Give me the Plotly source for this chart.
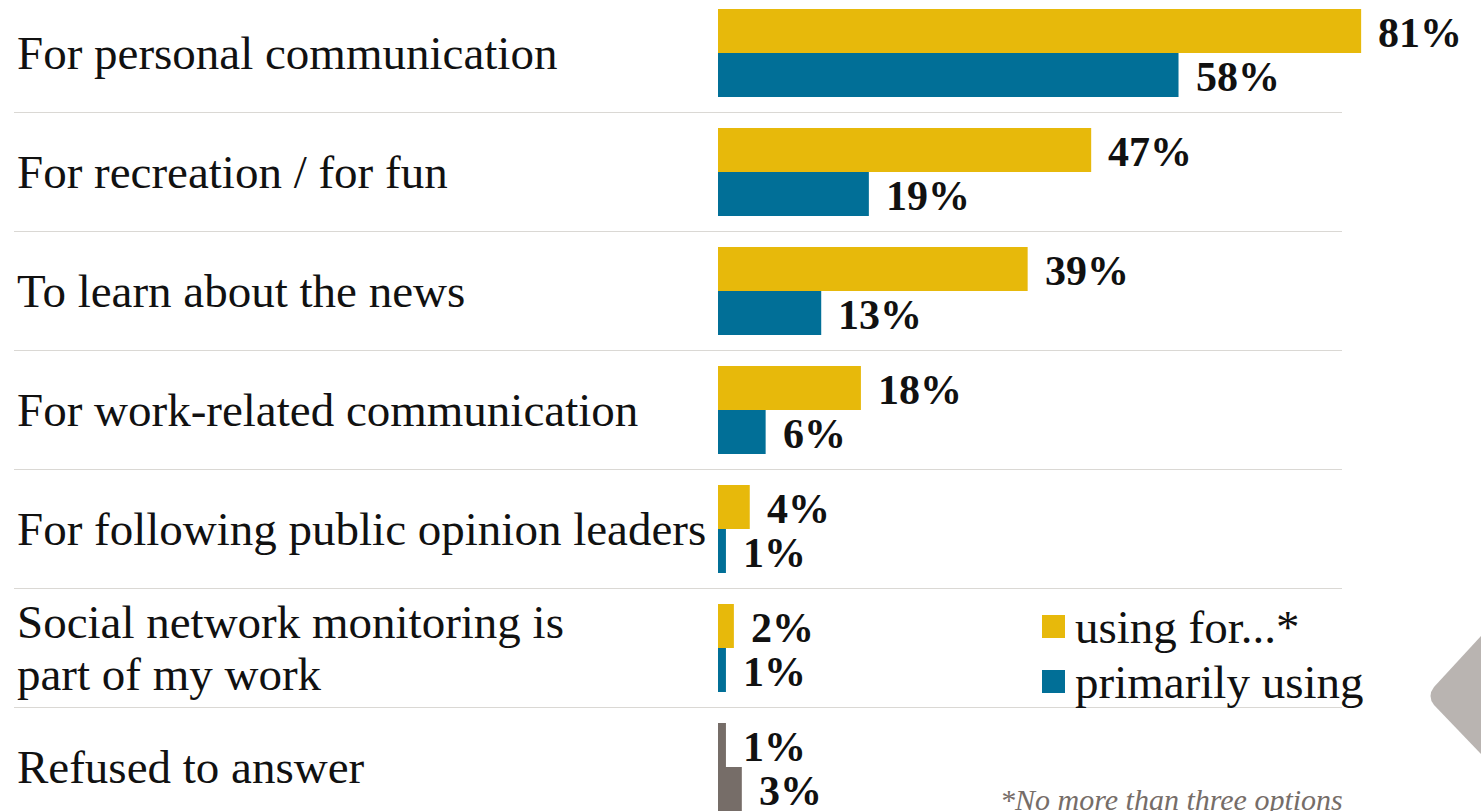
import plotly.graph_objects as go

# Survey data: reasons for using social networks
categories = [
    "For personal communication",
    "For recreation / for fun",
    "To learn about the news",
    "For work-related communication",
    "For following public opinion leaders",
    "Social network monitoring is<br>part of my work",
    "Refused to answer",
]
using_for = [81, 47, 39, 18, 4, 2, 1]
primarily_using = [58, 19, 13, 6, 1, 1, 3]

series_names = ["using for...*", "primarily using"]
footnote = "*No more than three options"

GOLD = "#E7B90B"
BLUE = "#016F97"
GRAY = "#766D68"
SEP = "#DAD8D4"

W, H = 1481, 811
SERIF = "Liberation Serif"

rows = list(range(len(categories)))
refused_idx = len(categories) - 1

gold_colors = [GRAY if i == refused_idx else GOLD for i in rows]
blue_colors = [GRAY if i == refused_idx else BLUE for i in rows]

fig = go.Figure()
fig.add_trace(go.Bar(
    x=using_for, y=rows, orientation="h", name=series_names[0],
    marker=dict(color=gold_colors, line=dict(width=0)),
    hoverinfo="x+name",
))
fig.add_trace(go.Bar(
    x=primarily_using, y=rows, orientation="h", name=series_names[1],
    marker=dict(color=blue_colors, line=dict(width=0)),
    hoverinfo="x+name",
))

BARGAP = 0.26
half = (1 - BARGAP) / 4  # offset of each bar centre from the row centre

annotations = []
# value labels to the right of each bar
for series, off in ((using_for, -half), (primarily_using, half)):
    for i, v in enumerate(series):
        annotations.append(dict(
            x=v, y=i + off, xref="x", yref="y",
            text=f"<b>{v}%</b>", showarrow=False,
            xanchor="left", yanchor="middle", xshift=15, yshift=-2,
            font=dict(family=SERIF, size=42, color="#111111"),
        ))

# category labels on the left
LINE_GAP = 0.43
for i, label in enumerate(categories):
    lines = label.split("<br>")
    n = len(lines)
    for k, line in enumerate(lines):
        annotations.append(dict(
            x=15 / W, y=i + (k - (n - 1) / 2) * LINE_GAP,
            xref="paper", yref="y",
            text=line, showarrow=False,
            xanchor="left", yanchor="middle",
            font=dict(family=SERIF, size=47, color="#111111"),
        ))

# legend entries
legend_y = [627, 682]
for name, color, py in zip(series_names, (GOLD, BLUE), legend_y):
    annotations.append(dict(
        x=1073 / W, y=1 - py / H, xref="paper", yref="paper",
        text=name, showarrow=False, xanchor="left", yanchor="middle",
        font=dict(family=SERIF, size=47, color="#111111"),
    ))

annotations.append(dict(
    x=998 / W, y=1 - 818 / H, xref="paper", yref="paper",
    text=f"<i>{footnote}</i>", showarrow=False,
    xanchor="left", yanchor="bottom",
    font=dict(family=SERIF, size=30, color=GRAY),
))

shapes = []
# row separators
for i in rows[:-1]:
    shapes.append(dict(
        type="line", xref="paper", yref="y",
        x0=14 / W, x1=1342 / W, y0=i + 0.5, y1=i + 0.5,
        line=dict(color=SEP, width=1.2),
    ))

# legend swatches
for color, py in zip((GOLD, BLUE), legend_y):
    shapes.append(dict(
        type="rect", xref="paper", yref="paper",
        x0=1042 / W, x1=1065 / W, y0=1 - (py + 11) / H, y1=1 - (py - 12) / H,
        fillcolor=color, line=dict(width=0),
    ))

# navigation arrow at the right edge
def px(x, y):
    return f"{x / W:.5f},{1 - y / H:.5f}"

arrow = (f"M {px(1481, 636)} L {px(1434, 687)} Q {px(1427, 696)} {px(1434, 705)} "
         f"L {px(1481, 754)} Z")
shapes.append(dict(
    type="path", xref="paper", yref="paper", path=arrow,
    fillcolor="#B9B4B1", line=dict(width=0),
))

SCALE = 7.94   # pixels per percentage point
X0 = 718       # pixel position of the zero line
ROW = 119.0    # pixels per row
TOP = 53       # pixel centre of the first row

fig.update_layout(
    width=W, height=H,
    margin=dict(l=0, r=0, t=0, b=0),
    paper_bgcolor="white", plot_bgcolor="white",
    barmode="group", bargap=BARGAP, bargroupgap=0,
    showlegend=False,
    xaxis=dict(visible=False, range=[-X0 / SCALE, (W - X0) / SCALE], fixedrange=True),
    yaxis=dict(visible=False, range=[(H - TOP) / ROW, -TOP / ROW], fixedrange=True),
    annotations=annotations,
    shapes=shapes,
)

fig.write_html("out.html")
